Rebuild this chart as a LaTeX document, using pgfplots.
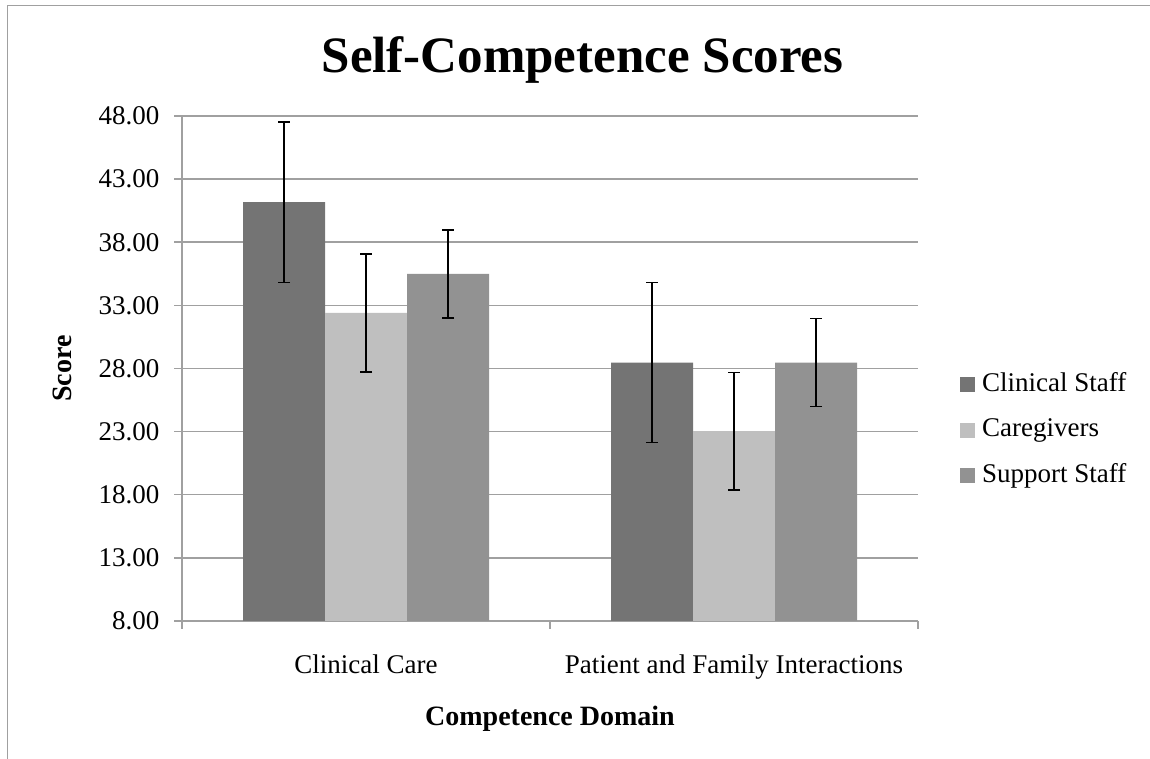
\documentclass[border=0pt]{standalone}
\usepackage{fontspec}
\setmainfont{Liberation Serif}
\usepackage{pgfplots}
\pgfplotsset{compat=1.18}
\definecolor{cs}{HTML}{747474}
\definecolor{cg}{HTML}{BFBFBF}
\definecolor{ss}{HTML}{929292}
\definecolor{gridc}{HTML}{A0A0A0}
\begin{document}
\begin{tikzpicture}[x=1pt,y=1pt]
\useasboundingbox (0,0) rectangle (1150,759);
\draw[gridc, line width=1.5pt] (7.3,-5) -- (7.3,753.7) -- (1160,753.7);
\node[font=\fontsize{51}{57}\selectfont\bfseries] at (582.5,699) {Self-Competence Scores};
\begin{axis}[
  at={(182pt,138pt)}, anchor=south west,
  scale only axis, width=736pt, height=505pt,
  ymin=8, ymax=48, xmin=-0.5, xmax=1.5,
  ybar=0pt, bar width=82pt,
  ytick={8,13,...,48},
  yticklabel style={/pgf/number format/fixed, /pgf/number format/fixed zerofill, /pgf/number format/precision=2, /pgf/number format/assume math mode=true, font=\fontsize{27}{30}\selectfont},
  yticklabel shift=11pt,
  xtick={-0.5,0.5,1.5}, xticklabels={,,},
  extra x ticks={0,1},
  extra x tick labels={Clinical Care, Patient and Family Interactions},
  extra x tick style={tick style={draw=none}, grid=none},
  xticklabel style={font=\fontsize{27}{30}\selectfont},
  xticklabel shift=22pt,
  tick align=outside, major tick length=8pt,
  tick style={gridc, line width=1.5pt},
  ymajorgrids=true, xmajorgrids=false,
  grid style={gridc, line width=1.5pt},
  axis x line*=bottom, axis y line*=left,
  axis line style={gridc, line width=1.5pt},
  xlabel={\bfseries Competence Domain},
  ylabel={\bfseries Score},
  xlabel shift=-15pt, ylabel shift=20pt,
  label style={font=\fontsize{28}{32}\selectfont},
  legend style={at={(1.057,0.378)}, anchor=west, draw=none, fill=none,
    font=\fontsize{27}{30}\selectfont, row sep=16.5pt, inner sep=0pt,
    nodes={text height=19pt, text depth=6pt}},
  legend cell align=left,
  legend image code/.code={\fill[#1] (0pt,-7.5pt) rectangle (15pt,7.5pt); \path (20pt,0pt);},
  error bars/y dir=both, error bars/y explicit,
  error bars/error bar style={black, line width=1.5pt},
  error bars/error mark options={rotate=90, mark size=6pt, black, line width=1.5pt},
]
\addplot[fill=cs, draw=none] coordinates {(0,41.18) +- (0,6.35) (1,28.47) +- (0,6.35)};
\addplot[fill=cg, draw=none] coordinates {(0,32.40) +- (0,4.68) (1,23.04) +- (0,4.66)};
\addplot[fill=ss, draw=none] coordinates {(0,35.49) +- (0,3.49) (1,28.47) +- (0,3.50)};
\legend{Clinical Staff, Caregivers, Support Staff}
\end{axis}
\end{tikzpicture}
\end{document}
